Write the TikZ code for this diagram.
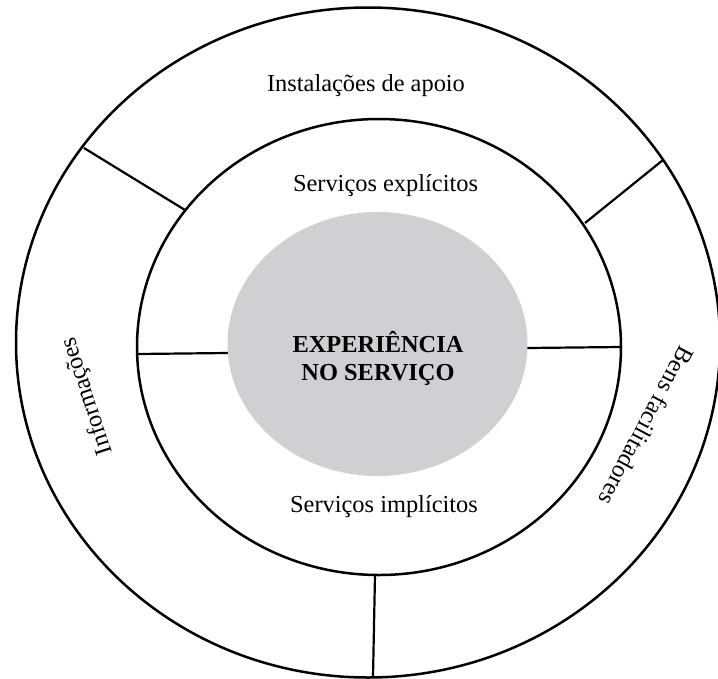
\documentclass[tikz,border=0pt]{standalone}
\usepackage{fontspec}
\setmainfont{Liberation Serif}
\usetikzlibrary{shapes.geometric}

\definecolor{coregray}{RGB}{208,207,209}

\begin{document}
\begin{tikzpicture}[
  x=1pt, y=-1pt,
  font=\fontsize{24.4}{28}\selectfont,
  ring/.style={draw, ellipse, line width=2.5pt, inner sep=0pt, outer sep=0pt},
  divider/.style={line width=2.2pt},
  ringtext/.style={anchor=base, inner sep=0pt}
]
\useasboundingbox (0,0) rectangle (718,678);

% the two rings
\node[ring, minimum width=704pt, minimum height=670pt] (outer) at (368,342.5) {};
\node[ring, minimum width=484pt, minimum height=456pt] (inner) at (379,347) {};

% ends of the dividers
\coordinate (infoTop) at (84,148);
\coordinate (infoTopIn) at (185,210);
\coordinate (goodsTop) at (663,160);
\coordinate (goodsTopIn) at (585,223);
\coordinate (infoBot) at (373,677);
\coordinate (infoBotIn) at (375,575);
\coordinate (leftIn) at (137,354);
\coordinate (leftCore) at (228,353);
\coordinate (rightCore) at (527,348);
\coordinate (rightIn) at (621,347);

\draw[divider] (infoTop) -- (infoTopIn);
\draw[divider] (goodsTop) -- (goodsTopIn);
\draw[divider] (infoBotIn) -- (infoBot);
\draw[divider] (leftIn) -- (leftCore);
\draw[divider] (rightCore) -- (rightIn);

% core of the service
\node[ellipse, fill=coregray, minimum width=300pt, minimum height=264pt, inner sep=0pt] (core) at (377.5,344) {};
% base sits on the second line here
\node[ringtext, align=center, font=\fontsize{24.4}{28}\selectfont\bfseries] (title) at (378,380) {EXPERIÊNCIA\\NO SERVIÇO};

\node[ringtext] (support) at (366,91) {Instalações de apoio};
\node[ringtext] (explicit) at (385.5,191.7) {Serviços explícitos};
\node[ringtext] (implicit) at (384,512.7) {Serviços implícitos};
\node[rotate=108, inner sep=0pt] (info) at (87.5,396) {Informações};
\node[rotate=-118, inner sep=0pt] (goods) at (646.5,426) {Bens facilitadores};

\end{tikzpicture}
\end{document}
